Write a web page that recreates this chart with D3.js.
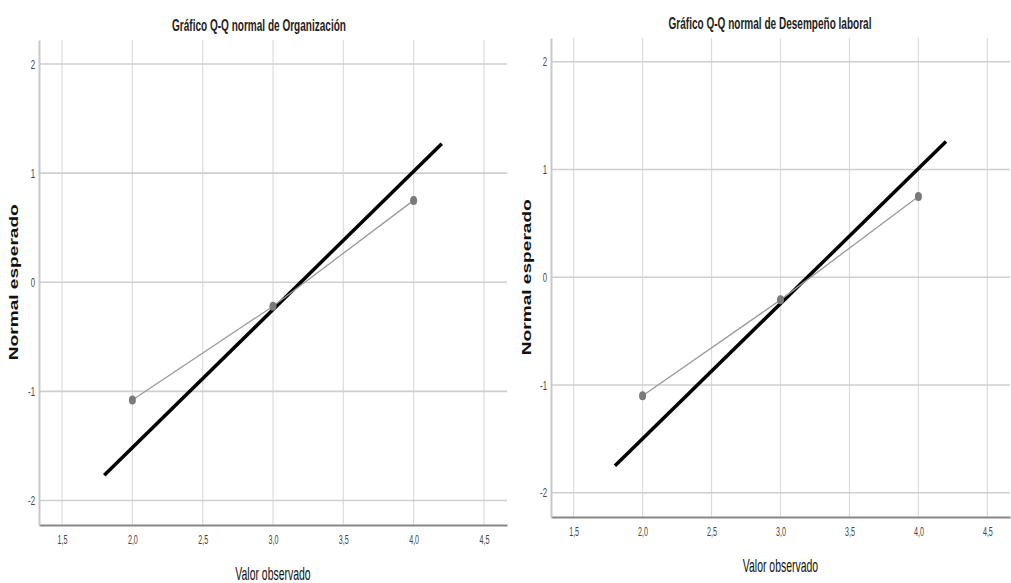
<!DOCTYPE html>
<html>
<head>
<meta charset="utf-8">
<script src="https://cdn.jsdelivr.net/npm/d3@7"></script>
<style>
  body { margin: 0; background: #fff; }
  text { font-family: "Liberation Sans", Arial, sans-serif; }
</style>
</head>
<body>
<div id="chart"></div>
<script>
// observed values and expected normal quantiles
var observed = [2, 3, 4];
var expectedOrg = [-1.08, -0.22, 0.75];
var expectedDes = [-1.10, -0.21, 0.75];
// reference line end points (x, z)
var refX = [1.8, 4.2];
var refOrg = [-1.77, 1.27];
var refDes = [-1.75, 1.26];
var xTicks = [1.5, 2.0, 2.5, 3.0, 3.5, 4.0, 4.5];
var yTicks = [-2, -1, 0, 1, 2];
var titles = ["Gráfico Q-Q normal de Organización", "Gráfico Q-Q normal de Desempeño laboral"];

var svg = d3.select("#chart").append("svg")
    .attr("width", 1011)
    .attr("height", 583);

var fmt = function(d) { return d3.format(".1f")(d).replace(".", ","); };

// squeeze text horizontally, like a narrow font
function squeeze(sel, ratio) {
    sel.each(function() {
        var w = this.getComputedTextLength();
        d3.select(this).attr("textLength", w * ratio).attr("lengthAdjust", "spacingAndGlyphs");
    });
}

function drawPanel(opt) {
    var g = svg.append("g")
        .attr("transform", "translate(" + opt.left + "," + opt.top + ")");

    var x = d3.scaleLinear().domain([1.336, 4.664]).range([0, opt.width]);
    var y = d3.scaleLinear().domain([-2.225, 2.22]).range([opt.height, 0]);

    // grid
    g.selectAll(".vgrid").data(xTicks).enter().append("line")
        .attr("x1", function(d) { return x(d); })
        .attr("x2", function(d) { return x(d); })
        .attr("y1", 0).attr("y2", opt.height)
        .attr("stroke", "#dcdcdc").attr("stroke-width", 1.2);
    g.selectAll(".hgrid").data(yTicks).enter().append("line")
        .attr("x1", 0).attr("x2", opt.width)
        .attr("y1", function(d) { return y(d); })
        .attr("y2", function(d) { return y(d); })
        .attr("stroke", "#cfcfcf").attr("stroke-width", 1.6);

    // axes
    var xAxis = g.append("g")
        .attr("transform", "translate(0," + opt.height + ")")
        .call(d3.axisBottom(x).tickValues(xTicks).tickFormat(fmt).tickSize(0).tickPadding(10));
    xAxis.select(".domain").attr("stroke", "#888").attr("stroke-width", 2);
    xAxis.selectAll("text").attr("font-size", 13).attr("fill", "#444")
        .attr("font-family", "Liberation Sans, Arial, sans-serif");
    squeeze(xAxis.selectAll("text"), 0.55);

    var yAxis = g.append("g")
        .call(d3.axisLeft(y).tickValues(yTicks).tickFormat(d3.format("d")).tickSize(0).tickPadding(4));
    yAxis.select(".domain").attr("stroke", "#c8c8c8").attr("stroke-width", 2);
    yAxis.selectAll("text").attr("font-size", 13).attr("fill", "#444")
        .attr("font-family", "Liberation Sans, Arial, sans-serif")
        .text(function(d) { return d3.format("d")(d).replace("−", "-"); });
    squeeze(yAxis.selectAll("text"), 0.6);

    // reference line
    var line = d3.line()
        .x(function(d) { return x(d[0]); })
        .y(function(d) { return y(d[1]); });
    g.append("path")
        .attr("d", line(d3.zip(refX, opt.ref)))
        .attr("fill", "none")
        .attr("stroke", "#000")
        .attr("stroke-width", 3.5);

    // observed points
    var pts = d3.zip(observed, opt.expected);
    g.append("path")
        .attr("d", line(pts))
        .attr("fill", "none")
        .attr("stroke", "#9a9a9a")
        .attr("stroke-width", 1.3);
    g.selectAll(".pt").data(pts).enter().append("ellipse")
        .attr("cx", function(d) { return x(d[0]); })
        .attr("cy", function(d) { return y(d[1]); })
        .attr("rx", 3.5).attr("ry", 4.5)
        .attr("fill", "#7a7a7a");

    // titles
    var t = g.append("text")
        .attr("x", opt.titleX).attr("y", -9)
        .attr("text-anchor", "middle")
        .attr("font-size", 17).attr("font-weight", "bold")
        .attr("fill", "#222")
        .text(opt.title);
    squeeze(t, 0.59);
    var xl = g.append("text")
        .attr("x", opt.width / 2).attr("y", opt.height + 55)
        .attr("text-anchor", "middle")
        .attr("font-size", 19)
        .attr("fill", "#111")
        .text("Valor observado");
    squeeze(xl, 0.55);
    g.append("text")
        .attr("transform", "translate(" + opt.ylabX + "," + y(0) + ") rotate(-90)")
        .attr("text-anchor", "middle")
        .attr("font-family", "DejaVu Sans, sans-serif")
        .attr("font-size", 13.5).attr("font-weight", "bold")
        .attr("textLength", 156).attr("lengthAdjust", "spacingAndGlyphs")
        .attr("fill", "#111")
        .text("Normal esperado");
}

drawPanel({ left: 39, top: 40, width: 468, height: 485, title: titles[0], titleX: 220,
    expected: expectedOrg, ref: refOrg, ylabX: -21 });
drawPanel({ left: 551, top: 38, width: 459, height: 479, title: titles[1], titleX: 219,
    expected: expectedDes, ref: refDes, ylabX: -20 });
</script>
</body>
</html>
